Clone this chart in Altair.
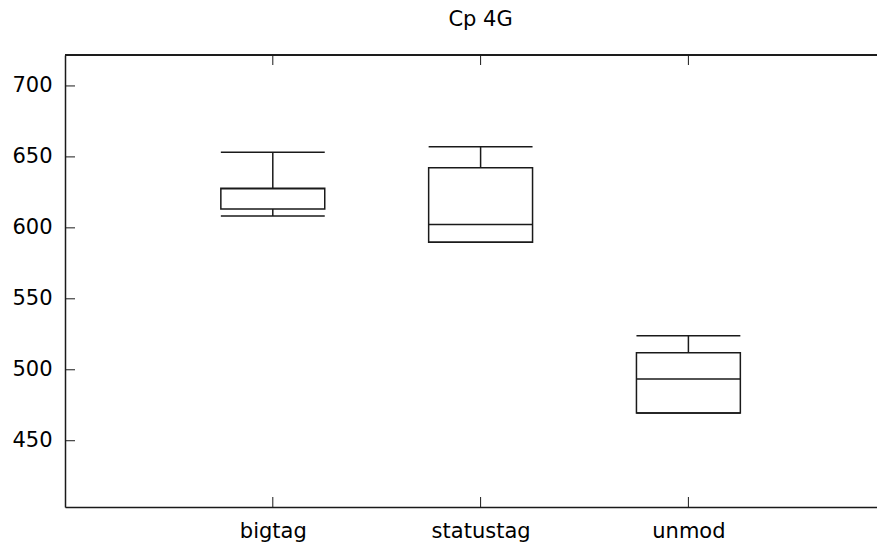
import altair as alt
import pandas as pd

categories = ["bigtag", "statustag", "unmod"]
positions = [1, 2, 3]
whisker_low = [608.4, 589.8, 469.5]
q1 = [613.3, 589.8, 469.5]
median = [627.6, 602.3, 493.5]
q3 = [627.9, 642.4, 512.0]
whisker_high = [653.3, 657.2, 524.0]
y_ticks = [450, 500, 550, 600, 650, 700]
box_half = 0.25
title_text = "Cp 4G"

df = pd.DataFrame({
    "cat": categories,
    "pos": positions,
    "lo": [p - box_half for p in positions],
    "hi": [p + box_half for p in positions],
    "wlow": whisker_low,
    "q1": q1,
    "med": median,
    "q3": q3,
    "whigh": whisker_high,
})
yt = pd.DataFrame({"v": y_ticks})
xt = pd.DataFrame({"p": positions})
tt = pd.DataFrame({"p": [2], "t": [title_text]})

W, H = 812, 452
FONT = "DejaVu Sans"
FS = 21
INK = "#1a1a1a"
SW = 1.5

xscale = alt.Scale(domain=[0, 3.9076], nice=False, zero=False)
yscale = alt.Scale(domain=[403.3, 721.8], nice=False, zero=False)

label_expr = "datum.value == 1 ? 'bigtag' : datum.value == 2 ? 'statustag' : datum.value == 3 ? 'unmod' : ''"

base = alt.Chart(df)

box = base.mark_rect(fill=None, fillOpacity=0, stroke=INK, strokeWidth=SW).encode(
    x=alt.X("lo:Q", scale=xscale,
            axis=alt.Axis(values=positions, labelExpr=label_expr, title=None, grid=False,
                          tickSize=0, labelPadding=13, labelFontSize=FS, labelFont=FONT,
                          labelColor="black", domainColor=INK, domainWidth=SW,
                          labelFlush=False, labelOverlap=False)),
    x2="hi:Q",
    y=alt.Y("q1:Q", scale=yscale,
            axis=alt.Axis(values=y_ticks, title=None, grid=False, tickSize=0,
                          labelPadding=13, labelFontSize=FS, labelFont=FONT,
                          labelColor="black", domainColor=INK, domainWidth=SW,
                          labelFlush=False, labelOverlap=False)),
    y2="q3:Q",
)

med_rule = base.mark_rule(color=INK, strokeWidth=SW).encode(
    x=alt.X("lo:Q", scale=xscale), x2="hi:Q", y=alt.Y("med:Q", scale=yscale))
cap_hi = base.mark_rule(color=INK, strokeWidth=SW).encode(
    x=alt.X("lo:Q", scale=xscale), x2="hi:Q", y=alt.Y("whigh:Q", scale=yscale))
cap_lo = base.mark_rule(color=INK, strokeWidth=SW).encode(
    x=alt.X("lo:Q", scale=xscale), x2="hi:Q", y=alt.Y("wlow:Q", scale=yscale))
stem_hi = base.mark_rule(color=INK, strokeWidth=SW).encode(
    x=alt.X("pos:Q", scale=xscale), y=alt.Y("q3:Q", scale=yscale), y2="whigh:Q")
stem_lo = base.mark_rule(color=INK, strokeWidth=SW).encode(
    x=alt.X("pos:Q", scale=xscale), y=alt.Y("q1:Q", scale=yscale), y2="wlow:Q")

# inward ticks
ytick = alt.Chart(yt).mark_rule(color=INK, strokeWidth=1).encode(
    y=alt.Y("v:Q", scale=yscale), x=alt.value(0), x2=alt.value(10))
xtick_b = alt.Chart(xt).mark_rule(color=INK, strokeWidth=1).encode(
    x=alt.X("p:Q", scale=xscale), y=alt.value(H - 10), y2=alt.value(H))
xtick_t = alt.Chart(xt).mark_rule(color=INK, strokeWidth=1).encode(
    x=alt.X("p:Q", scale=xscale), y=alt.value(0), y2=alt.value(10))
top_border = alt.Chart(xt).mark_rule(color=INK, strokeWidth=SW).encode(
    x=alt.value(0), x2=alt.value(W), y=alt.value(0))

title = alt.Chart(tt).mark_text(font=FONT, fontSize=FS, color="black",
                                align="center", baseline="alphabetic").encode(
    x=alt.X("p:Q", scale=xscale), y=alt.value(-29), text="t:N")

chart = alt.layer(
    box, med_rule, cap_hi, cap_lo, stem_hi, stem_lo, ytick, xtick_b, xtick_t, top_border, title
).properties(
    width=W, height=H,
    autosize=alt.AutoSizeParams(type="none"),
    padding={"left": 57, "top": 47, "right": 0, "bottom": 35},
).configure_view(stroke=None).configure(background="white")

chart.save("out.html", embed_options={"renderer": "svg", "actions": False})
